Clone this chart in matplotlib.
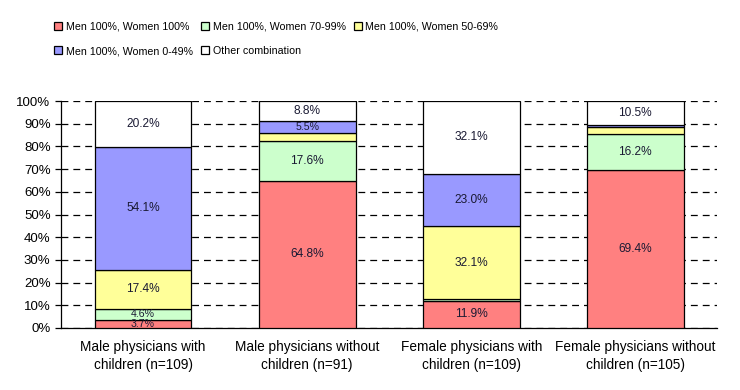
import matplotlib.pyplot as plt
import numpy as np

plt.rcParams['font.family'] = ['Liberation Sans', 'DejaVu Sans']

groups = ['Male physicians with\nchildren (n=109)', 'Male physicians without\nchildren (n=91)',
          'Female physicians with\nchildren (n=109)', 'Female physicians without\nchildren (n=105)']
series = ['Men 100%, Women 100%', 'Men 100%, Women 70-99%', 'Men 100%, Women 50-69%',
          'Men 100%, Women 0-49%', 'Other combination']
both_100 = [3.7, 64.8, 11.9, 69.4]
w_70_99 = [4.6, 17.6, 0.9, 16.2]
w_50_69 = [17.4, 3.3, 32.1, 2.9]
w_0_49 = [54.1, 5.5, 23.0, 1.0]
other = [20.2, 8.8, 32.1, 10.5]
colors = ['#FF8080', '#CCFFCC', '#FFFF99', '#9999FF', '#FFFFFF']

fig = plt.figure(figsize=(7.4, 3.9), dpi=100)
ax = fig.add_axes([0.0824, 0.159, 0.887, 0.582])

x = np.arange(len(groups))
bottom = np.zeros(len(groups))
handles = []
for name, vals, col in zip(series, [both_100, w_70_99, w_50_69, w_0_49, other], colors):
    vals = np.array(vals)
    b = ax.bar(x, vals, 0.59, bottom=bottom, color=col, edgecolor='black', linewidth=0.9,
               label=name, zorder=3)
    handles.append(b)
    for i, v in enumerate(vals):
        if v >= 3.5:
            # small segments get a smaller label so they do not run into each other
            fs = 8.6 if v >= 6 else 7.6
            ax.text(x[i], bottom[i] + v / 2, f'{v:.1f}%', ha='center', va='center',
                    fontsize=fs, color='#1a1a33', zorder=4, clip_on=True)
    bottom += vals

ax.set_xlim(-0.5, 3.5)
ax.set_ylim(0, 100)
ax.set_yticks(np.arange(0, 101, 10))
ax.set_yticklabels([f'{t}%' for t in range(0, 101, 10)], fontsize=9.5)
ax.yaxis.grid(True, linestyle=(0, (5.5, 4)), color='black', linewidth=0.9, zorder=0)
ax.set_xticks(x)
ax.set_xticklabels(groups, fontsize=9.8, linespacing=1.35)
ax.tick_params(axis='x', length=0, pad=9)
ax.tick_params(axis='y', length=4, width=0.9, direction='out')
for s in ['top', 'right']:
    ax.spines[s].set_visible(False)
for s in ['left', 'bottom']:
    ax.spines[s].set_linewidth(0.9)

order = [0, 3, 1, 4, 2]
fig.legend([handles[i] for i in order], [series[i] for i in order], ncol=3,
           loc='upper left', bbox_to_anchor=(0.06, 0.97), frameon=False, fontsize=7.7,
           handlelength=0.75, handleheight=0.75, handletextpad=0.35, columnspacing=0.75,
           labelspacing=1.38)

fig.savefig('out.png', dpi=100)
